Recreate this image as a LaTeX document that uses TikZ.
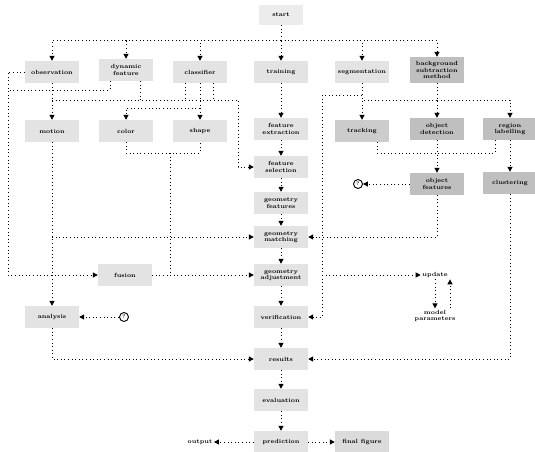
\documentclass[tikz,border=0pt]{standalone}
\usetikzlibrary{arrows.meta}
\begin{document}
\begin{tikzpicture}[x=1pt,y=-1pt,
  box/.style={fill=gray!22, inner sep=1.5pt, minimum width=54pt, minimum height=22pt,
    font=\bfseries\fontsize{6}{6.5}\selectfont, align=center},
  darkbox/.style={box, fill=gray!50},
  plain/.style={inner sep=1.5pt, font=\bfseries\fontsize{6}{6.5}\selectfont, align=center},
  qmark/.style={circle, draw, line width=0.9pt, inner sep=0pt, minimum size=9pt,
    font=\bfseries\fontsize{5}{5}\selectfont},
  link/.style={line width=1pt, dash pattern=on 1pt off 2.6pt},
  arr/.style={link, -{Triangle[width=5pt,length=5pt]}}]
\useasboundingbox (0,0) rectangle (535,452);

% ---- nodes ----
\node[box, fill=gray!15, minimum width=44pt, minimum height=20pt] (start) at (281,15) {start};

\node[box] (a1) at (52,72) {observation};
\node[box] (a2) at (126,70) {dynamic\\feature};
\node[box] (a3) at (200,72) {classifier};
\node[box] (a4) at (281,72) {training};
\node[box] (a5) at (362,72) {segmentation};
\node[darkbox, minimum height=26pt] (a6) at (437,70) {background\\subtraction\\method};

\node[box] (b1) at (52,131) {motion};
\node[box] (b2) at (126,131) {color};
\node[box] (b3) at (200,131) {shape};
\node[box] (b4) at (281,129) {feature\\extraction};
\node[darkbox, fill=gray!40] (b5) at (362,131) {tracking};
\node[darkbox] (b6) at (437,129) {object\\detection};
\node[darkbox] (b7) at (510,129) {region\\labelling};

\node[box] (c4) at (281,167) {feature\\selection};
\node[darkbox] (c6) at (437,184) {object\\features};
\node[darkbox] (c7) at (510,183) {clustering};
\node[qmark] (q1) at (358,184) {?};

\node[box] (d4) at (281,203) {geometry\\features};
\node[box] (e4) at (281,237) {geometry\\matching};
\node[box] (j) at (125,275) {fusion};
\node[box] (f4) at (281,275) {geometry\\adjustment};
\node[plain] (n) at (435,275) {update};
\node[plain] (o) at (435,316) {model\\parameters};

\node[box] (g1) at (52,317) {analysis};
\node[qmark] (q2) at (124,317) {?};
\node[box] (g4) at (281,317) {verification};
\node[box] (h4) at (281,359) {results};
\node[box] (i4) at (281,400) {evaluation};
\node[box] (k4) at (281,442) {prediction};
\node[plain] (m) at (200,442) {output};
\node[box, fill=gray!28] (l) at (362,442) {final figure};

% ---- junction points ----
\coordinate (bus) at (281,41);
\coordinate (lb) at (8,72);
\coordinate (a2l) at (110,90);
\coordinate (j1) at (52,100);
\coordinate (k1) at (238,100);
\coordinate (x140) at (140,100);
\coordinate (x185) at (185,100);
\coordinate (x213) at (213,100);
\coordinate (t1) at (200,108);
\coordinate (u1) at (126,153);
\coordinate (u2) at (200,153);
\coordinate (u3) at (170,153);
\coordinate (e1) at (52,237);
\coordinate (v1) at (362,95);
\coordinate (v2) at (322,95);
\coordinate (v3) at (322,275);
\coordinate (w1) at (437,100);
\coordinate (p1) at (377,153);
\coordinate (p2) at (495,153);
\coordinate (r1) at (450,0);

% ---- top distribution ----
\draw[link] (start) -- (bus);
\foreach \t in {a1,a2,a3,a4,a5,a6} \draw[arr] (bus) -| (\t);

% ---- left part ----
\draw[arr] (a1) -- (b1);
\draw[arr] (b1) -- (g1);
\draw[arr] (a1.west) -- (lb) |- (j);
\draw[link] (a2.south -| a2l) -- (a2l) -- (a2l -| lb);
\draw[arr] (j1) -- (k1) |- (c4);
\draw[link] (a2.south -| x140) -- (x140);
\draw[link] (a3.south -| x185) -- (x185);
\draw[link] (a3.south -| x213) -- (x213);
\draw[arr] (a3) -- (b3);
\draw[arr] (t1) -| (b2);
\draw[link] (b2) -- (u1) -- (u2) -- (b3);
\draw[link] (u3) -- (u3 |- j);
\draw[arr] (j) -- (f4);
\draw[arr] (e1) -- (e4);
\draw[arr] (q2) -- (g1);
\draw[arr] (g1) |- (h4);

% ---- main column ----
\draw[arr] (a4) -- (b4);
\draw[arr] (b4) -- (c4);
\draw[arr] (c4) -- (d4);
\draw[arr] (d4) -- (e4);
\draw[arr] (e4) -- (f4);
\draw[arr] (f4) -- (g4);
\draw[arr] (g4) -- (h4);
\draw[arr] (h4) -- (i4);
\draw[arr] (i4) -- (k4);
\draw[arr] (k4) -- (l);
\draw[arr] (k4) -- (m);

% ---- right part ----
\draw[arr] (a5) -- (b5);
\draw[link] (v1) -- (v2);
\draw[arr] (v2) |- (g4);
\draw[arr] (v3) -- (n);
\draw[arr] (a6) -- (b6);
\draw[link] (w1) -- (w1 -| b5);
\draw[arr] (w1) -| (b7);
\draw[arr] (b6) -- (c6);
\draw[link] (b5.south -| p1) -- (p1) -- (p2) -- (b7.south -| p2);
\draw[arr] (b7) -- (c7);
\draw[arr] (c6) -- (q1);
\draw[arr] (c6) |- (e4);
\draw[arr] (c7) |- (h4);
\draw[arr] (n) -- (o);
\draw[arr] (o.north -| r1) -- (n.south -| r1);
\end{tikzpicture}
\end{document}
